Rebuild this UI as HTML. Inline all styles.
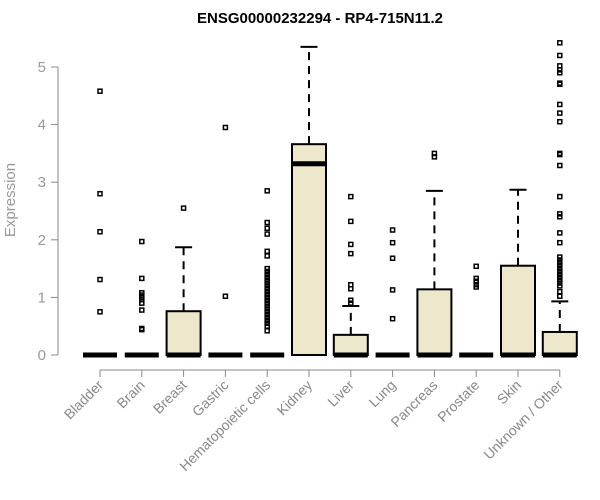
<!DOCTYPE html>
<html><head><meta charset="utf-8"><style>
html,body{margin:0;padding:0;background:#fff}
svg{display:block;font-family:"Liberation Sans",Arial,sans-serif}
</style></head><body>
<svg id="chart" width="600" height="500" viewBox="0 0 600 500">
<text x="320" y="23" text-anchor="middle" font-size="15" font-weight="bold">ENSG00000232294 - RP4-715N11.2</text>
<text transform="translate(15,200) rotate(-90)" text-anchor="middle" font-size="15" fill="#999">Expression</text>
<g id="axes"></g>
<g id="marks"></g>
</svg>
<script>
const categories=["Bladder","Brain","Breast","Gastric","Hematopoietic cells","Kidney","Liver","Lung","Pancreas","Prostate","Skin","Unknown / Other"];
const q1=[0,0,0,0,0,0,0,0,0,0,0,0];
const medians=[0,0,0,0,0,3.32,0,0,0,0,0,0];
const q3=[0,0,0.76,0,0,3.66,0.35,0,1.14,0,1.55,0.4];
const whiskerLow=[0,0,0,0,0,0,0,0,0,0,0,0];
const whiskerHigh=[0,0,1.87,0,0,5.35,0.85,0,2.85,0,2.87,0.93];
const outliers=[
[4.58,2.8,2.14,1.31,0.75],
[1.97,1.33,1.08,1.04,1.0,0.96,0.9,0.78,0.46,0.44],
[2.55],
[3.95,1.02],
[2.85,2.3,2.2,2.1,1.8,1.72,1.5,1.45,1.4,1.35,1.3,1.25,1.2,1.15,1.1,1.05,1.0,0.95,0.9,0.85,0.8,0.75,0.7,0.65,0.6,0.55,0.5,0.42],
[],
[2.75,2.32,1.92,1.76,1.22,1.15,0.95,0.9],
[2.17,1.95,1.68,1.13,0.63],
[3.5,3.44],
[1.54,1.33,1.28,1.22,1.18],
[],
[5.42,5.2,5.02,4.95,4.9,4.72,4.7,4.35,4.2,4.05,3.5,3.48,3.29,2.75,2.45,2.4,2.12,1.95,1.7,1.65,1.6,1.55,1.5,1.45,1.4,1.35,1.3,1.25,1.2,1.1,1.02]
];
const yTicks=[0,1,2,3,4,5];
const NS="http://www.w3.org/2000/svg";
function y(v){return 355-v*57.6;}
function x(i){return 100+i*41.8;}
function mk(tag,attrs,parent){const e=document.createElementNS(NS,tag);for(const k in attrs)e.setAttribute(k,attrs[k]);parent.appendChild(e);return e;}
const axes=document.getElementById('axes'),marks=document.getElementById('marks');
// y axis
let yl=mk('line',{x1:58,x2:58,y1:y(0),y2:y(5),stroke:'#888','stroke-width':1},axes);


yTicks.forEach(t=>{
 let l=mk('line',{x1:51,x2:58,y1:y(t),y2:y(t),stroke:'#888'},axes);
 
 
 let tx=mk('text',{x:46,y:y(t)+5,'text-anchor':'end','font-size':15,fill:'#999'},axes);
 tx.textContent=t;
 
 
});
// x axis
let xl=mk('line',{x1:x(0),x2:x(categories.length-1),y1:370,y2:370,stroke:'#888'},axes);


categories.forEach((c,i)=>{
 let l=mk('line',{x1:x(i),x2:x(i),y1:370,y2:377,stroke:'#888'},axes);
 
 
 let tx=mk('text',{transform:`translate(${x(i)+4},${386}) rotate(-45)`,'text-anchor':'end','font-size':14,fill:'#888'},axes);
 tx.textContent=c;
 
 
});
const hw=17;
categories.forEach((c,i)=>{
 const cx=x(i);
 const g=mk('g',{},marks);
 
 
 if(whiskerHigh[i]>q3[i]){
  mk('line',{x1:cx,x2:cx,y1:y(q3[i]),y2:y(whiskerHigh[i]),stroke:'#000','stroke-width':2,'stroke-dasharray':'8,6'},g);
  mk('line',{x1:cx-hw/2,x2:cx+hw/2,y1:y(whiskerHigh[i]),y2:y(whiskerHigh[i]),stroke:'#000','stroke-width':2},g);
 }
 if(q3[i]>q1[i]){
  mk('rect',{x:cx-hw,y:y(q3[i]),width:hw*2,height:y(q1[i])-y(q3[i]),fill:'#ede7cc',stroke:'#000','stroke-width':2},g);
 }
 mk('line',{x1:cx-hw,x2:cx+hw,y1:y(medians[i]),y2:y(medians[i]),stroke:'#000','stroke-width':5},g);
 outliers[i].forEach(v=>{
  const p=mk('rect',{x:cx-2,y:y(v)-2,width:4,height:4,fill:'none',stroke:'#000','stroke-width':1.5},g);
  
  
 });
});
</script>
</body></html>
